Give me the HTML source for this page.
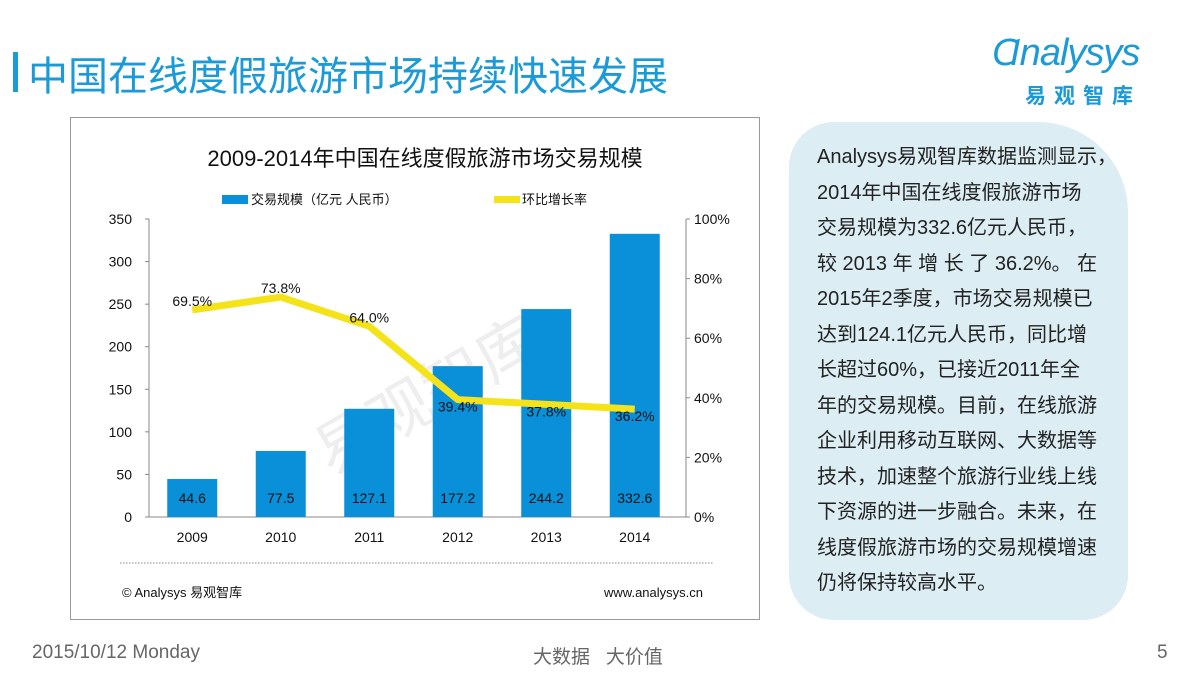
<!DOCTYPE html>
<html><head><meta charset="utf-8"><style>
body{margin:0;width:1200px;height:675px;background:#fff;position:relative;overflow:hidden;font-family:"Liberation Sans","Noto Sans CJK SC",sans-serif}
.abs{position:absolute}
</style></head><body>
<div class="abs" style="left:13px;top:52px;width:5px;height:40px;background:#1a9ad6"></div>
<div class="abs" style="left:28px;top:44px;font-size:40px;color:#1a9ad6;letter-spacing:0px">中国在线度假旅游市场持续快速发展</div>
<div class="abs" style="left:992px;top:28px;width:180px;height:80px">
 <div style="position:absolute;left:0;top:4px;font-size:38px;color:#1a9ad6;font-style:italic;letter-spacing:-1px">Ɑnalysys</div>
 <div style="position:absolute;left:33px;top:52px;font-size:21px;color:#1a9ad6;font-weight:bold;letter-spacing:8px">易观智库</div>
</div>
<div class="abs" style="left:70px;top:117px;width:690px;height:503px;border:1px solid #999;box-sizing:border-box"></div>
<svg class="abs" style="left:0;top:0" width="1200" height="675">
<text x="425" y="166" font-size="22" text-anchor="middle" fill="#111">2009-2014年中国在线度假旅游市场交易规模</text>
<rect x="222" y="195" width="26" height="9" fill="#0a8fd9"/>
<text x="251" y="204" font-size="13" fill="#111">交易规模（亿元 人民币）</text>
<rect x="494" y="196" width="26" height="7" fill="#f5e31a"/>
<text x="522" y="204" font-size="13" fill="#111">环比增长率</text>
<text x="418" y="420" font-size="62" fill="#eee" transform="rotate(-30 418 380)" text-anchor="middle">易观智库</text>
<g id="g"></g>
<line x1="120" y1="563" x2="714" y2="563" stroke="#888" stroke-dasharray="1.5 1.5"/>
<text x="122" y="597" font-size="13" fill="#111">© Analysys 易观智库</text>
<text x="703" y="597" font-size="13" fill="#111" text-anchor="end">www.analysys.cn</text>
</svg>
<div class="abs" style="left:789px;top:122px;width:339px;height:498px;background:#dcedf3;border-radius:45px 90px 45px 45px"></div>
<div class="abs" style="left:817px;top:140px;width:310px;font-size:20px;line-height:35.5px;color:#222;white-space:nowrap">Analysys易观智库数据监测显示，<br>2014年中国在线度假旅游市场<br>交易规模为332.6亿元人民币，<br>较 2013 年 增 长 了 36.2%。 在<br>2015年2季度，市场交易规模已<br>达到124.1亿元人民币，同比增<br>长超过60%，已接近2011年全<br>年的交易规模。目前，在线旅游<br>企业利用移动互联网、大数据等<br>技术，加速整个旅游行业线上线<br>下资源的进一步融合。未来，在<br>线度假旅游市场的交易规模增速<br>仍将保持较高水平。</div>
<div class="abs" style="left:32px;top:642px;font-size:19px;color:#666">2015/10/12 Monday</div>
<div class="abs" style="left:533px;top:642px;font-size:19px;color:#666">大数据 &nbsp; 大价值</div>
<div class="abs" style="left:1157px;top:642px;font-size:19px;color:#666">5</div>
<script>
const years=["2009","2010","2011","2012","2013","2014"];
const volume=[44.6,77.5,127.1,177.2,244.2,332.6];
const growth=[69.5,73.8,64.0,39.4,37.8,36.2];
const leftTicks=[0,50,100,150,200,250,300,350];
const rightTicks=[0,20,40,60,80,100];
const NS="http://www.w3.org/2000/svg",g=document.getElementById('g');
const x0=149,x1=680,yB=517,yT=219;
const yL=v=>yB-(v/350)*(yB-yT), yR=v=>yB-(v/100)*(yB-yT);
const bw=(x1-x0)/years.length, xc=i=>x0+bw*(i+0.5)-1;
function mk(t,a,txt){const e=document.createElementNS(NS,t);for(const k in a)e.setAttribute(k,a[k]);if(txt!=null)e.textContent=txt;g.appendChild(e);return e;}
let e=mk('line',{x1:x0,y1:yT,x2:x0,y2:yB,stroke:'#888'});


e=mk('line',{x1:x0,y1:yB,x2:686,y2:yB,stroke:'#888'});


e=mk('line',{x1:686,y1:yT,x2:686,y2:yB,stroke:'#888'});


leftTicks.forEach(v=>{mk('line',{x1:x0-4,y1:yL(v),x2:x0,y2:yL(v),stroke:'#888'});
 e=mk('text',{x:132,y:yL(v)+5,'font-size':14,'text-anchor':'end',fill:'#111'},v);
 
 });
rightTicks.forEach(v=>{mk('line',{x1:686,y1:yR(v),x2:690,y2:yR(v),stroke:'#888'});
 e=mk('text',{x:694,y:yR(v)+5,'font-size':14,fill:'#111'},v+'%');
 
 });
years.forEach((y,i)=>{
 e=mk('rect',{x:xc(i)-25,y:yL(volume[i]),width:50,height:yB-yL(volume[i]),fill:'#0a8fd9'});
 
 
 e=mk('text',{x:xc(i),y:yB-14,'font-size':14,'text-anchor':'middle',fill:'#111'},volume[i].toFixed(1));
 
 
 e=mk('text',{x:xc(i),y:yB+25,'font-size':14,'text-anchor':'middle',fill:'#111'},y);
 
 
});
e=mk('polyline',{points:growth.map((v,i)=>xc(i)+','+yR(v)).join(' '),fill:'none',stroke:'#f5e31a','stroke-width':7,'stroke-linejoin':'round'});


growth.forEach((v,i)=>{
 e=mk('text',{x:xc(i),y:yR(v)+(i<3?-4:12),'font-size':14,'text-anchor':'middle',fill:'#111'},v.toFixed(1)+'%');
 
 
});
</script>
</body></html>
